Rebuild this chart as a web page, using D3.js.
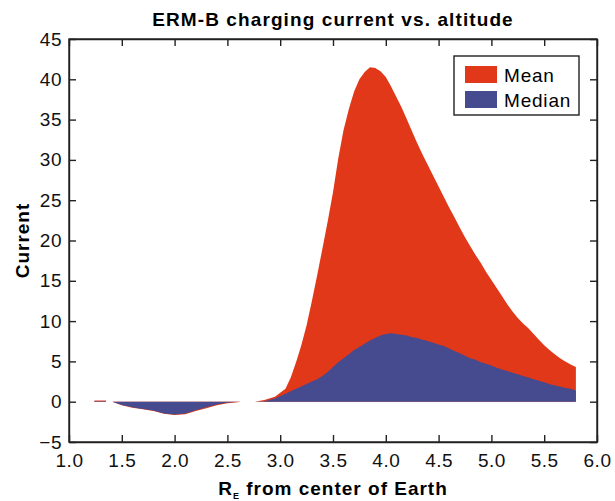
<!DOCTYPE html>
<html>
<head>
<meta charset="utf-8">
<script src="https://cdn.jsdelivr.net/npm/d3@7"></script>
<style>
  body { margin: 0; background: #fff; }
  svg { font-family: "Liberation Sans", Arial, Helvetica, sans-serif; }
</style>
</head>
<body>
<div id="chart"></div>
<script>
/* ERM-B charging current vs altitude, mean and median as filled areas */

// x positions (Earth radii), null marks a gap in the data
const radii = [1.24, 1.35, null, 1.41, 1.50, 1.60, 1.70, 1.80, 1.90, 2.00, 2.10, 2.20, 2.30, 2.40, 2.50, 2.62, null,
  2.76, 2.85, 2.95, 3.05, 3.10, 3.15, 3.20, 3.25, 3.30, 3.35, 3.40, 3.45, 3.50, 3.55, 3.60, 3.65, 3.70, 3.75, 3.80,
  3.85, 3.90, 3.95, 4.00, 4.05, 4.10, 4.15, 4.20, 4.25, 4.30, 4.35, 4.40, 4.45, 4.50, 4.55, 4.60, 4.65, 4.70, 4.75,
  4.80, 4.85, 4.90, 4.95, 5.00, 5.05, 5.10, 5.15, 5.20, 5.25, 5.30, 5.35, 5.40, 5.45, 5.50, 5.55, 5.60, 5.65, 5.70,
  5.75, 5.80];

const meanCurrent = [0.15, 0.15, null, 0, -0.45, -0.75, -0.95, -1.15, -1.5, -1.65, -1.55, -1.15, -0.8, -0.45, -0.2, -0.05, null,
  0, 0.2, 0.6, 1.6, 3.0, 4.9, 7.0, 9.5, 12.5, 15.7, 19.0, 22.4, 26.0, 30.2, 33.7, 36.3, 38.5, 40.0, 40.9,
  41.5, 41.4, 41.0, 40.3, 39.1, 37.8, 36.5, 35.0, 33.5, 32.0, 30.6, 29.3, 28.0, 26.7, 25.4, 24.1, 22.9, 21.6, 20.4,
  19.3, 18.2, 17.2, 16.1, 15.1, 14.1, 13.1, 12.1, 11.2, 10.4, 9.7, 9.1, 8.4, 7.7, 7.0, 6.4, 5.9, 5.4, 5.0,
  4.6, 4.3];

const medianCurrent = [0.05, 0.05, null, 0, -0.4, -0.7, -0.9, -1.1, -1.45, -1.6, -1.45, -1.05, -0.7, -0.35, -0.1, 0, null,
  0, 0.05, 0.4, 1.0, 1.3, 1.6, 1.9, 2.2, 2.5, 2.8, 3.2, 3.7, 4.3, 4.9, 5.4, 5.9, 6.4, 6.8, 7.2,
  7.6, 7.9, 8.2, 8.4, 8.5, 8.4, 8.3, 8.2, 8.0, 7.9, 7.7, 7.5, 7.3, 7.1, 6.9, 6.6, 6.3, 6.0, 5.7,
  5.4, 5.2, 4.9, 4.7, 4.5, 4.2, 4.0, 3.8, 3.6, 3.4, 3.2, 3.0, 2.8, 2.6, 2.4, 2.2, 2.0, 1.9, 1.7,
  1.6, 1.4];

const xTicks = [1.0, 1.5, 2.0, 2.5, 3.0, 3.5, 4.0, 4.5, 5.0, 5.5, 6.0];
const yTicks = [-5, 0, 5, 10, 15, 20, 25, 30, 35, 40, 45];
const seriesNames = ["Mean", "Median"];
const seriesColors = ["#e03819", "#464a8f"];

const width = 615, height = 501;
const pLeft = 69, pRight = 597, pTop = 39, pBottom = 442;

const svg = d3.select("#chart").append("svg")
  .attr("width", width)
  .attr("height", height);

const xScale = d3.scaleLinear().domain([1, 6]).range([pLeft, pRight]);
const yScale = d3.scaleLinear().domain([-5, 45]).range([pBottom, pTop]);

const rows = radii.map((r, i) => ({ r: r, mean: meanCurrent[i], median: medianCurrent[i] }));

function areaFor(key) {
  return d3.area()
    .defined(d => d.r != null && d[key] != null)
    .x(d => xScale(d.r))
    .y0(yScale(0))
    .y1(d => yScale(d[key]));
}

svg.append("path")
  .datum(rows)
  .attr("fill", seriesColors[0])
  .attr("d", areaFor("mean"));

svg.append("path")
  .datum(rows)
  .attr("fill", seriesColors[1])
  .attr("d", areaFor("median"));

// axes, ticks point inward on all four sides
const tickLen = 7;
const fmt = d3.format(".1f");

svg.append("g")
  .attr("transform", `translate(0,${pBottom})`)
  .call(d3.axisBottom(xScale).tickValues(xTicks).tickSizeInner(-tickLen).tickSizeOuter(0).tickPadding(12).tickFormat(fmt));

svg.append("g")
  .attr("transform", `translate(0,${pTop})`)
  .call(d3.axisTop(xScale).tickValues(xTicks).tickSizeInner(-tickLen).tickSizeOuter(0).tickFormat(""));

svg.append("g")
  .attr("transform", `translate(${pLeft},0)`)
  .call(d3.axisLeft(yScale).tickValues(yTicks).tickSizeInner(-tickLen).tickSizeOuter(0).tickPadding(7));

svg.append("g")
  .attr("transform", `translate(${pRight},0)`)
  .call(d3.axisRight(yScale).tickValues(yTicks).tickSizeInner(-tickLen).tickSizeOuter(0).tickFormat(""));

svg.selectAll(".domain, .tick line")
  .attr("stroke", "#222")
  .attr("stroke-width", 1.4);

svg.selectAll(".tick text")
  .attr("fill", "#111")
  .style("font-size", "19px")
  .style("letter-spacing", "0.5px")
  .style("font-family", "'Liberation Sans', Arial, sans-serif");

// frame
svg.append("rect")
  .attr("x", pLeft).attr("y", pTop)
  .attr("width", pRight - pLeft).attr("height", pBottom - pTop)
  .attr("fill", "none")
  .attr("stroke", "#222")
  .attr("stroke-width", 1.4);

// title
svg.append("text")
  .attr("x", (pLeft + pRight) / 2)
  .attr("y", 26)
  .attr("text-anchor", "middle")
  .style("font-size", "19px")
  .style("letter-spacing", "1.1px")
  .style("font-weight", "bold")
  .text("ERM-B charging current vs. altitude");

// axis labels
const xl = svg.append("text")
  .attr("x", 333)
  .attr("y", 495)
  .attr("text-anchor", "middle")
  .style("font-size", "19px")
  .style("letter-spacing", "1px")
  .style("font-weight", "bold");
xl.append("tspan").text("R");
xl.append("tspan").attr("dy", 4).style("font-size", "9px").text("E");
xl.append("tspan").attr("dy", -4).text(" from center of Earth");

svg.append("text")
  .attr("transform", `translate(29,${(pTop + pBottom) / 2}) rotate(-90)`)
  .attr("text-anchor", "middle")
  .style("font-size", "19px")
  .style("letter-spacing", "1px")
  .style("font-weight", "bold")
  .text("Current");

// legend
const lg = svg.append("g").attr("transform", "translate(454,56)");
lg.append("rect")
  .attr("width", 125).attr("height", 59)
  .attr("fill", "#fff")
  .attr("stroke", "#222")
  .attr("stroke-width", 1.4);
seriesNames.forEach((name, i) => {
  lg.append("rect")
    .attr("x", 11).attr("y", 10 + i * 25)
    .attr("width", 32).attr("height", 17)
    .attr("fill", seriesColors[i]);
  lg.append("text")
    .attr("x", 50).attr("y", 26 + i * 25)
    .style("font-size", "19px")
    .style("letter-spacing", "0.8px")
    .text(name);
});
</script>
</body>
</html>
